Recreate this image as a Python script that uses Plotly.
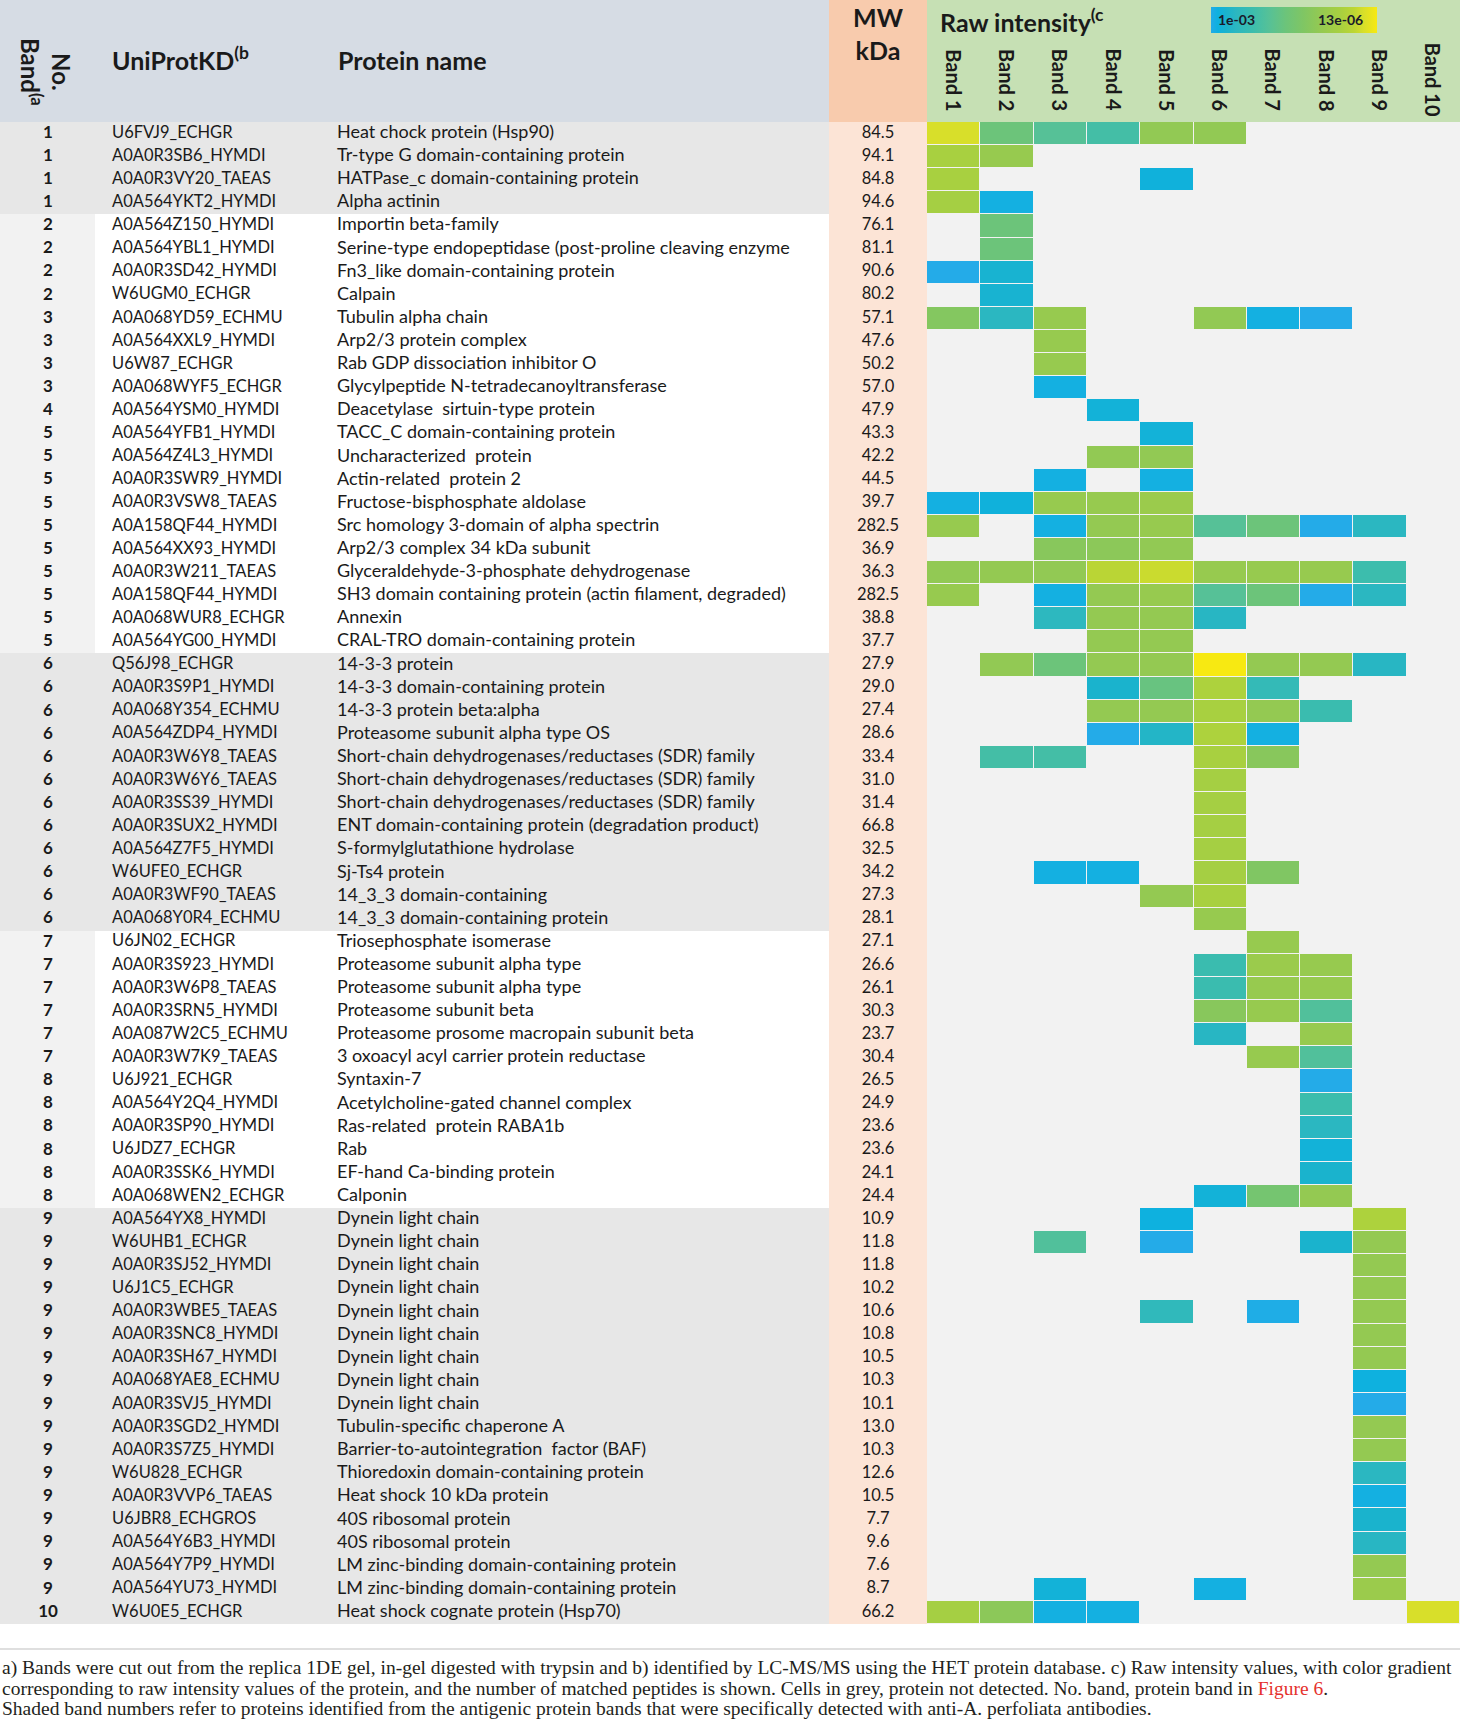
import plotly.graph_objects as go

W, H = 1460, 1735

# ---- table data -----
band_no = [1] * 4 + [2] * 4 + [3] * 4 + [4] + [5] * 10 + [6] * 12 + [7] * 6 + [8] * 6 + [9] * 17 + [10]

uniprot = [
    "U6FVJ9_ECHGR", "A0A0R3SB6_HYMDI", "A0A0R3VY20_TAEAS", "A0A564YKT2_HYMDI",
    "A0A564Z150_HYMDI", "A0A564YBL1_HYMDI", "A0A0R3SD42_HYMDI", "W6UGM0_ECHGR",
    "A0A068YD59_ECHMU", "A0A564XXL9_HYMDI", "U6W87_ECHGR", "A0A068WYF5_ECHGR",
    "A0A564YSM0_HYMDI",
    "A0A564YFB1_HYMDI", "A0A564Z4L3_HYMDI", "A0A0R3SWR9_HYMDI", "A0A0R3VSW8_TAEAS",
    "A0A158QF44_HYMDI", "A0A564XX93_HYMDI", "A0A0R3W211_TAEAS", "A0A158QF44_HYMDI",
    "A0A068WUR8_ECHGR", "A0A564YG00_HYMDI",
    "Q56J98_ECHGR", "A0A0R3S9P1_HYMDI", "A0A068Y354_ECHMU", "A0A564ZDP4_HYMDI",
    "A0A0R3W6Y8_TAEAS", "A0A0R3W6Y6_TAEAS", "A0A0R3SS39_HYMDI", "A0A0R3SUX2_HYMDI",
    "A0A564Z7F5_HYMDI", "W6UFE0_ECHGR", "A0A0R3WF90_TAEAS", "A0A068Y0R4_ECHMU",
    "U6JN02_ECHGR", "A0A0R3S923_HYMDI", "A0A0R3W6P8_TAEAS", "A0A0R3SRN5_HYMDI",
    "A0A087W2C5_ECHMU", "A0A0R3W7K9_TAEAS",
    "U6J921_ECHGR", "A0A564Y2Q4_HYMDI", "A0A0R3SP90_HYMDI", "U6JDZ7_ECHGR",
    "A0A0R3SSK6_HYMDI", "A0A068WEN2_ECHGR",
    "A0A564YX8_HYMDI", "W6UHB1_ECHGR", "A0A0R3SJ52_HYMDI", "U6J1C5_ECHGR",
    "A0A0R3WBE5_TAEAS", "A0A0R3SNC8_HYMDI", "A0A0R3SH67_HYMDI", "A0A068YAE8_ECHMU",
    "A0A0R3SVJ5_HYMDI", "A0A0R3SGD2_HYMDI", "A0A0R3S7Z5_HYMDI", "W6U828_ECHGR",
    "A0A0R3VVP6_TAEAS", "U6JBR8_ECHGROS", "A0A564Y6B3_HYMDI", "A0A564Y7P9_HYMDI",
    "A0A564YU73_HYMDI",
    "W6U0E5_ECHGR",
]

protein = [
    "Heat chock protein (Hsp90)", "Tr-type G domain-containing protein",
    "HATPase_c domain-containing protein", "Alpha actinin",
    "Importin beta-family", "Serine-type endopeptidase (post-proline cleaving enzyme",
    "Fn3_like domain-containing protein", "Calpain",
    "Tubulin alpha chain", "Arp2/3 protein complex", "Rab GDP dissociation inhibitor O",
    "Glycylpeptide N-tetradecanoyltransferase",
    "Deacetylase  sirtuin-type protein",
    "TACC_C domain-containing protein", "Uncharacterized  protein", "Actin-related  protein 2",
    "Fructose-bisphosphate aldolase", "Src homology 3-domain of alpha spectrin",
    "Arp2/3 complex 34 kDa subunit", "Glyceraldehyde-3-phosphate dehydrogenase",
    "SH3 domain containing protein (actin filament, degraded)", "Annexin",
    "CRAL-TRO domain-containing protein",
    "14-3-3 protein", "14-3-3 domain-containing protein", "14-3-3 protein beta:alpha",
    "Proteasome subunit alpha type OS", "Short-chain dehydrogenases/reductases (SDR) family",
    "Short-chain dehydrogenases/reductases (SDR) family",
    "Short-chain dehydrogenases/reductases (SDR) family",
    "ENT domain-containing protein (degradation product)", "S-formylglutathione hydrolase",
    "Sj-Ts4 protein", "14_3_3 domain-containing", "14_3_3 domain-containing protein",
    "Triosephosphate isomerase", "Proteasome subunit alpha type", "Proteasome subunit alpha type",
    "Proteasome subunit beta", "Proteasome prosome macropain subunit beta",
    "3 oxoacyl acyl carrier protein reductase",
    "Syntaxin-7", "Acetylcholine-gated channel complex", "Ras-related  protein RABA1b", "Rab",
    "EF-hand Ca-binding protein", "Calponin",
    "Dynein light chain", "Dynein light chain", "Dynein light chain", "Dynein light chain",
    "Dynein light chain", "Dynein light chain", "Dynein light chain", "Dynein light chain",
    "Dynein light chain", "Tubulin-specific chaperone A", "Barrier-to-autointegration  factor (BAF)",
    "Thioredoxin domain-containing protein", "Heat shock 10 kDa protein", "40S ribosomal protein",
    "40S ribosomal protein", "LM zinc-binding domain-containing protein",
    "LM zinc-binding domain-containing protein",
    "Heat shock cognate protein (Hsp70)",
]

mw_kda = [
    84.5, 94.1, 84.8, 94.6,
    76.1, 81.1, 90.6, 80.2,
    57.1, 47.6, 50.2, 57.0,
    47.9,
    43.3, 42.2, 44.5, 39.7, 282.5, 36.9, 36.3, 282.5, 38.8, 37.7,
    27.9, 29.0, 27.4, 28.6, 33.4, 31.0, 31.4, 66.8, 32.5, 34.2, 27.3, 28.1,
    27.1, 26.6, 26.1, 30.3, 23.7, 30.4,
    26.5, 24.9, 23.6, 23.6, 24.1, 24.4,
    10.9, 11.8, 11.8, 10.2, 10.6, 10.8, 10.5, 10.3, 10.1, 13.0, 10.3, 12.6, 10.5, 7.7, 9.6, 7.6, 8.7,
    66.2,
]

# antigenic bands (shaded rows)
shaded_bands = [1, 6, 9, 10]

band_labels = [f"Band {i}" for i in range(1, 11)]

band_1 = {0: .92, 1: .78, 2: .78, 3: .76, 6: .00, 8: .58, 16: .03, 17: .68, 19: .65, 20: .68, 64: .76}
band_2 = {0: .45, 1: .68, 3: .03, 4: .45, 5: .45, 6: .08, 7: .08, 8: .15, 16: .05, 19: .66,
          23: .65, 27: .28, 64: .62}
band_3 = {0: .35, 8: .68, 9: .68, 10: .68, 11: .03, 15: .03, 16: .68, 17: .03, 18: .60, 19: .65,
          20: .03, 21: .16, 23: .45, 27: .28, 32: .03, 48: .33, 63: .06, 64: .03}
band_4 = {0: .28, 12: .06, 14: .65, 16: .68, 17: .66, 18: .62, 19: .85, 20: .66, 21: .66, 22: .66,
          23: .66, 24: .09, 25: .66, 26: .00, 32: .03, 64: .03}
band_5 = {0: .65, 2: .05, 13: .06, 14: .65, 15: .03, 16: .70, 17: .68, 18: .65, 19: .89, 20: .68,
          21: .66, 22: .66, 23: .66, 24: .43, 25: .66, 26: .12, 33: .66, 47: .04, 48: .00, 51: .18}
band_6 = {0: .65, 8: .65, 17: .35, 19: .68, 20: .35, 21: .14, 23: 1.0, 24: .80, 25: .78, 26: .80,
          27: .78, 28: .76, 29: .76, 30: .76, 31: .76, 32: .76, 33: .78, 34: .68, 36: .24, 37: .24,
          38: .60, 39: .14, 46: .06, 63: .03}
band_7 = {8: .03, 17: .45, 19: .68, 20: .45, 23: .66, 24: .20, 25: .66, 26: .03, 27: .60, 32: .56,
          35: .68, 36: .70, 37: .68, 38: .68, 40: .68, 46: .50, 51: .01}
band_8 = {8: .00, 17: .00, 19: .68, 20: .00, 23: .66, 25: .24, 36: .68, 37: .68, 38: .33, 39: .68,
          40: .33, 41: .00, 42: .25, 43: .15, 44: .06, 45: .09, 46: .66, 48: .09}
band_9 = {17: .15, 19: .25, 20: .15, 23: .14, 47: .80, 48: .66, 49: .66, 50: .66, 51: .66, 52: .66,
          53: .66, 54: .04, 55: .00, 56: .66, 57: .66, 58: .15, 59: .03, 60: .09, 61: .14, 62: .66,
          63: .70}
band_10 = {64: .92}

band_cols = [band_1, band_2, band_3, band_4, band_5, band_6, band_7, band_8, band_9, band_10]

n = len(uniprot)
rows = list(range(n))
z = [[col.get(r) for col in band_cols] for r in rows]

colorscale = [
    [0.00, "#24abe8"], [0.04, "#0eb1df"], [0.09, "#1ab3cd"], [0.15, "#2bb7c1"],
    [0.25, "#3cbdad"], [0.35, "#56c197"], [0.45, "#6cc47a"], [0.56, "#80c663"],
    [0.66, "#94c952"], [0.78, "#a8d040"], [0.86, "#bcd633"], [0.92, "#d8df2a"],
    [1.00, "#f7e912"],
]

# layout geometry (pixels)
HEAD = 122
TAB_END = 1624
MW_L, MW_R = 829, 927
NO_R = 95


def px(x):
    return x / W


def py(y):
    return 1 - y / H


# row backgrounds: 0 white, 1 light grey, 2 shaded grey, 3 peach
bg = [[2, 2, 3] if b in shaded_bands else [1, 0, 3] for b in band_no]
bg_scale = [
    [0, "#ffffff"], [0.167, "#ffffff"], [0.167, "#f2f2f2"], [0.5, "#f2f2f2"],
    [0.5, "#e7e7e7"], [0.833, "#e7e7e7"], [0.833, "#fce4d6"], [1, "#fce4d6"],
]

txt = "#1a1a1a"
id_font = dict(family="Lato", size=16.5, color=txt)
name_font = dict(family="Lato", size=18, color=txt)

fig = go.Figure()

fig.add_trace(go.Heatmap(
    x=[0, NO_R, MW_L, MW_R], y=rows, z=bg, colorscale=bg_scale, zmin=0, zmax=3,
    showscale=False, hoverinfo="skip", xaxis="x", yaxis="y",
))

fig.add_trace(go.Scatter(
    x=[48] * n, y=rows, text=[str(b) for b in band_no], mode="text",
    textposition="middle center", textfont=dict(family="Lato", size=17, color=txt, weight="bold"),
    hoverinfo="skip", xaxis="x", yaxis="y",
))
fig.add_trace(go.Scatter(
    x=[112] * n, y=rows, text=uniprot, mode="text", textposition="middle right",
    textfont=id_font, hoverinfo="skip", xaxis="x", yaxis="y",
))
fig.add_trace(go.Scatter(
    x=[337] * n, y=rows, text=protein, mode="text", textposition="middle right",
    textfont=name_font, hoverinfo="skip", xaxis="x", yaxis="y",
))
fig.add_trace(go.Scatter(
    x=[878] * n, y=rows, text=[f"{v:.1f}" for v in mw_kda], mode="text",
    textposition="middle center", textfont=id_font, hoverinfo="skip", xaxis="x", yaxis="y",
))

fig.add_trace(go.Heatmap(
    x=band_labels, y=rows, z=z, colorscale=colorscale, zmin=0, zmax=1,
    xgap=1, ygap=1, hoverongaps=False, xaxis="x2", yaxis="y",
    colorbar=dict(
        orientation="h", x=px(1211), xanchor="left", y=py(7), yanchor="top",
        lenmode="pixels", len=166, thickness=26, xpad=0, ypad=0,
        outlinewidth=0, showticklabels=False, ticks="",
    ),
))

# header blocks
shapes = [
    dict(type="rect", xref="paper", yref="paper", x0=0, x1=px(MW_L), y0=py(HEAD), y1=1,
         fillcolor="#d6dce4", line_width=0, layer="below"),
    dict(type="rect", xref="paper", yref="paper", x0=px(MW_L), x1=px(MW_R), y0=py(HEAD), y1=1,
         fillcolor="#f8cbad", line_width=0, layer="below"),
    dict(type="rect", xref="paper", yref="paper", x0=px(MW_R), x1=1, y0=py(HEAD), y1=1,
         fillcolor="#c6e0b4", line_width=0, layer="below"),
    dict(type="line", xref="paper", yref="paper", x0=0, x1=1, y0=py(1649), y1=py(1649),
         line=dict(color="#d4d4d4", width=1.5)),
]

head_font = dict(family="Lato", size=25, color=txt, weight="bold")
annotations = [
    dict(text="No.<br>Band<sup>(a</sup>", x=px(46), y=py(72), xanchor="center", textangle=90,
         font=dict(family="Lato", size=24, color=txt, weight="bold")),
    dict(text="UniProtKD<sup>(b</sup>", x=px(110), y=py(58), xanchor="left", font=head_font),
    dict(text="Protein name", x=px(336), y=py(60), xanchor="left", font=head_font),
    dict(text="MW<br>kDa", x=px(878), y=py(33), xanchor="center", font=head_font),
    dict(text="Raw intensity<sup>(c</sup>", x=px(938), y=py(21), xanchor="left", font=head_font),
    dict(text="<b>1e-03</b>", x=px(1236), y=py(20), xanchor="center",
         font=dict(family="Lato", size=14, color="#1a1a2a")),
    dict(text="<b>13e-06</b>", x=px(1340), y=py(20), xanchor="center",
         font=dict(family="Lato", size=14, color="#1a1a2a")),
]
for a in annotations:
    a.update(xref="paper", yref="paper", yanchor="middle", showarrow=False)

for lab in band_labels:
    annotations.append(dict(
        text=lab, x=lab, xref="x2", xanchor="center", y=py(80), yref="paper", yanchor="middle",
        textangle=90, showarrow=False,
        font=dict(family="Lato", size=20, color=txt, weight="bold"),
    ))

foot_font = dict(family="Liberation Serif", size=19.5, color="#231f20")
footnotes = [
    "a) Bands were cut out from the replica 1DE gel, in-gel digested with trypsin and b) identified "
    "by LC-MS/MS using the HET protein database. c) Raw intensity values, with color gradient",
    "corresponding to raw intensity values of the protein, and the number of matched peptides is "
    "shown. Cells in grey, protein not detected. No. band, protein band in "
    "<span style='color:#e5322d'>Figure 6</span>.",
    "Shaded band numbers refer to proteins identified from the antigenic protein bands that were "
    "specifically detected with anti-A. perfoliata antibodies.",
]
for i, line in enumerate(footnotes):
    annotations.append(dict(
        text=line, x=0, xanchor="left", y=py(1668 + 20 * i), yanchor="middle",
        xref="paper", yref="paper", showarrow=False, font=foot_font,
    ))

fig.update_layout(
    width=W, height=H,
    margin=dict(l=0, r=0, t=0, b=0),
    paper_bgcolor="white",
    plot_bgcolor="#f2f2f2",
    showlegend=False,
    font=dict(family="Lato"),
    xaxis=dict(domain=[0, px(MW_R)], range=[0, MW_R], visible=False, fixedrange=True),
    xaxis2=dict(domain=[px(MW_R), 1], type="category", categoryarray=band_labels,
                range=[-0.5, 9.5], visible=False, anchor="y", fixedrange=True),
    yaxis=dict(domain=[py(TAB_END), py(HEAD)], range=[n - 0.5, -0.5], visible=False,
               fixedrange=True),
    shapes=shapes,
    annotations=annotations,
)

fig.write_html("out.html", config={"displayModeBar": False},
               post_script="document.body.style.margin = '0';")
